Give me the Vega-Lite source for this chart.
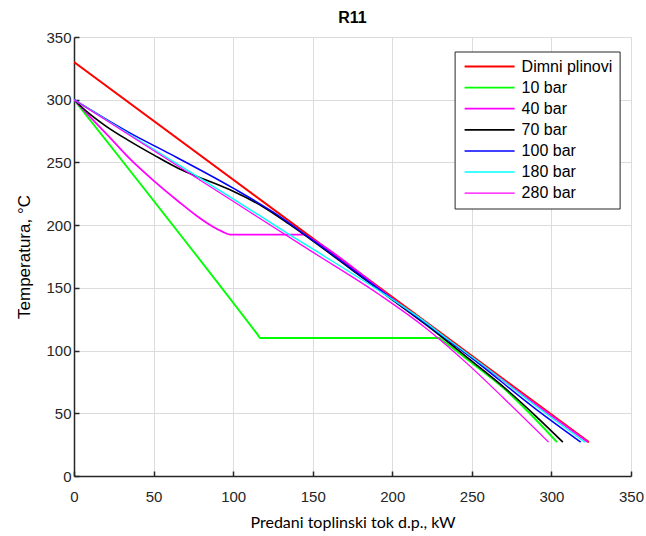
{
  "$schema": "https://vega.github.io/schema/vega-lite/v6.json",
  "width": 557,
  "height": 439,
  "autosize": {"type": "none"},
  "padding": {"left": 74, "top": 37, "right": 15, "bottom": 60},
  "background": "white",
  "title": {"text": "R11", "fontSize": 16, "font": "Liberation Sans", "fontWeight": "bold", "color": "black", "offset": 4, "anchor": "middle"},
  "data": {"values": [
    {"s": "Dimni plinovi", "q": 0, "t": 330},
    {"s": "Dimni plinovi", "q": 323.5, "t": 27},
    {"s": "10 bar", "q": 0, "t": 300},
    {"s": "10 bar", "q": 115.5, "t": 112.5},
    {"s": "10 bar", "q": 117, "t": 110},
    {"s": "10 bar", "q": 229.5, "t": 110},
    {"s": "10 bar", "q": 231, "t": 108.6},
    {"s": "10 bar", "q": 247.6, "t": 92.5},
    {"s": "10 bar", "q": 269.5, "t": 70.5},
    {"s": "10 bar", "q": 286.3, "t": 50},
    {"s": "10 bar", "q": 303.5, "t": 27},
    {"s": "40 bar", "q": 0, "t": 300},
    {"s": "40 bar", "q": 10, "t": 286.5},
    {"s": "40 bar", "q": 22, "t": 270.5},
    {"s": "40 bar", "q": 35, "t": 253},
    {"s": "40 bar", "q": 50, "t": 235.5},
    {"s": "40 bar", "q": 66, "t": 218.5},
    {"s": "40 bar", "q": 77, "t": 207.5},
    {"s": "40 bar", "q": 87, "t": 199},
    {"s": "40 bar", "q": 93, "t": 195},
    {"s": "40 bar", "q": 98, "t": 192.5},
    {"s": "40 bar", "q": 144, "t": 192.5},
    {"s": "40 bar", "q": 150, "t": 188.5},
    {"s": "40 bar", "q": 200, "t": 141.5},
    {"s": "40 bar", "q": 250, "t": 94.5},
    {"s": "40 bar", "q": 300, "t": 48},
    {"s": "40 bar", "q": 323, "t": 27},
    {"s": "70 bar", "q": 0, "t": 300},
    {"s": "70 bar", "q": 5, "t": 294},
    {"s": "70 bar", "q": 10, "t": 288.5},
    {"s": "70 bar", "q": 20, "t": 279},
    {"s": "70 bar", "q": 35, "t": 267},
    {"s": "70 bar", "q": 50, "t": 256},
    {"s": "70 bar", "q": 66, "t": 245},
    {"s": "70 bar", "q": 77, "t": 239},
    {"s": "70 bar", "q": 87, "t": 234},
    {"s": "70 bar", "q": 100, "t": 227},
    {"s": "70 bar", "q": 119, "t": 214.5},
    {"s": "70 bar", "q": 135, "t": 201},
    {"s": "70 bar", "q": 150, "t": 187.5},
    {"s": "70 bar", "q": 175, "t": 164},
    {"s": "70 bar", "q": 200, "t": 140.5},
    {"s": "70 bar", "q": 225, "t": 117},
    {"s": "70 bar", "q": 247.6, "t": 94},
    {"s": "70 bar", "q": 269.5, "t": 71.5},
    {"s": "70 bar", "q": 290, "t": 48},
    {"s": "70 bar", "q": 307.2, "t": 27},
    {"s": "100 bar", "q": 0, "t": 300},
    {"s": "100 bar", "q": 35, "t": 273.5},
    {"s": "100 bar", "q": 60, "t": 257},
    {"s": "100 bar", "q": 100, "t": 229.5},
    {"s": "100 bar", "q": 125, "t": 210.5},
    {"s": "100 bar", "q": 150, "t": 188},
    {"s": "100 bar", "q": 200, "t": 141},
    {"s": "100 bar", "q": 250, "t": 94},
    {"s": "100 bar", "q": 290, "t": 53.5},
    {"s": "100 bar", "q": 318.4, "t": 27},
    {"s": "180 bar", "q": 0, "t": 300},
    {"s": "180 bar", "q": 50, "t": 260.5},
    {"s": "180 bar", "q": 100, "t": 221},
    {"s": "180 bar", "q": 135.4, "t": 192.5},
    {"s": "180 bar", "q": 150, "t": 181},
    {"s": "180 bar", "q": 192, "t": 147.5},
    {"s": "180 bar", "q": 215, "t": 128},
    {"s": "180 bar", "q": 236, "t": 108},
    {"s": "180 bar", "q": 260, "t": 85.5},
    {"s": "180 bar", "q": 290, "t": 56},
    {"s": "180 bar", "q": 321, "t": 27},
    {"s": "280 bar", "q": 0, "t": 300},
    {"s": "280 bar", "q": 50, "t": 259.5},
    {"s": "280 bar", "q": 100, "t": 219},
    {"s": "280 bar", "q": 150, "t": 178.5},
    {"s": "280 bar", "q": 192, "t": 144.5},
    {"s": "280 bar", "q": 220, "t": 119},
    {"s": "280 bar", "q": 247.6, "t": 89},
    {"s": "280 bar", "q": 270, "t": 62},
    {"s": "280 bar", "q": 298.2, "t": 27}
  ]},
  "mark": {"type": "line", "clip": true, "interpolate": "monotone"},
  "encoding": {
    "x": {"field": "q", "type": "quantitative",
      "scale": {"domain": [0, 350], "nice": false, "zero": false},
      "axis": {"title": "Predani toplinski tok d.p., kW", "values": [0, 50, 100, 150, 200, 250, 300, 350], "titlePadding": 10, "labelPadding": 18}},
    "y": {"field": "t", "type": "quantitative",
      "scale": {"domain": [0, 350], "nice": false, "zero": false},
      "axis": {"title": "Temperatura, °C", "values": [0, 50, 100, 150, 200, 250, 300, 350], "titlePadding": 12, "titleFont": "Liberation Sans", "titleFontSize": 17}},
    "color": {"field": "s", "type": "nominal",
      "scale": {"domain": ["Dimni plinovi", "10 bar", "40 bar", "70 bar", "100 bar", "180 bar", "280 bar"],
                "range": ["#ff0000", "#00ff00", "#ff00ff", "#000000", "#0000ff", "#00ffff", "#ff00ff"]},
      "legend": {"title": null, "orient": "none", "legendX": 380.6, "legendY": 14.5,
        "symbolType": "M-1,0H9", "symbolSize": 100, "symbolStrokeWidth": 1.3,
        "labelOffset": 44, "labelFont": "Liberation Sans", "labelFontSize": 16, "labelColor": "black",
        "padding": 7, "rowPadding": 5.1, "strokeColor": "#262626", "fillColor": "white", "cornerRadius": 0}},
    "strokeWidth": {"field": "s", "type": "nominal",
      "scale": {"domain": ["Dimni plinovi", "10 bar", "40 bar", "70 bar", "100 bar", "180 bar", "280 bar"],
                "range": [2, 1.3, 1.3, 1.3, 1.3, 1.3, 1.3]},
      "legend": null}
  },
  "config": {
    "view": {"stroke": null},
    "axis": {
      "domainColor": "#262626", "domainWidth": 1.5,
      "tickColor": "#262626", "tickSize": -5, "tickWidth": 1.5,
      "gridColor": "#dcdcdc", "gridWidth": 1,
      "labelFont": "Liberation Sans", "labelFontSize": 15, "labelColor": "#262626",
      "labelFlush": false, "labelOverlap": false,
      "titleFont": "Lato", "titleFontSize": 16, "titleColor": "black", "titleFontWeight": "normal"
    },
    "axisY": {"labelPadding": 8}
  }
}
